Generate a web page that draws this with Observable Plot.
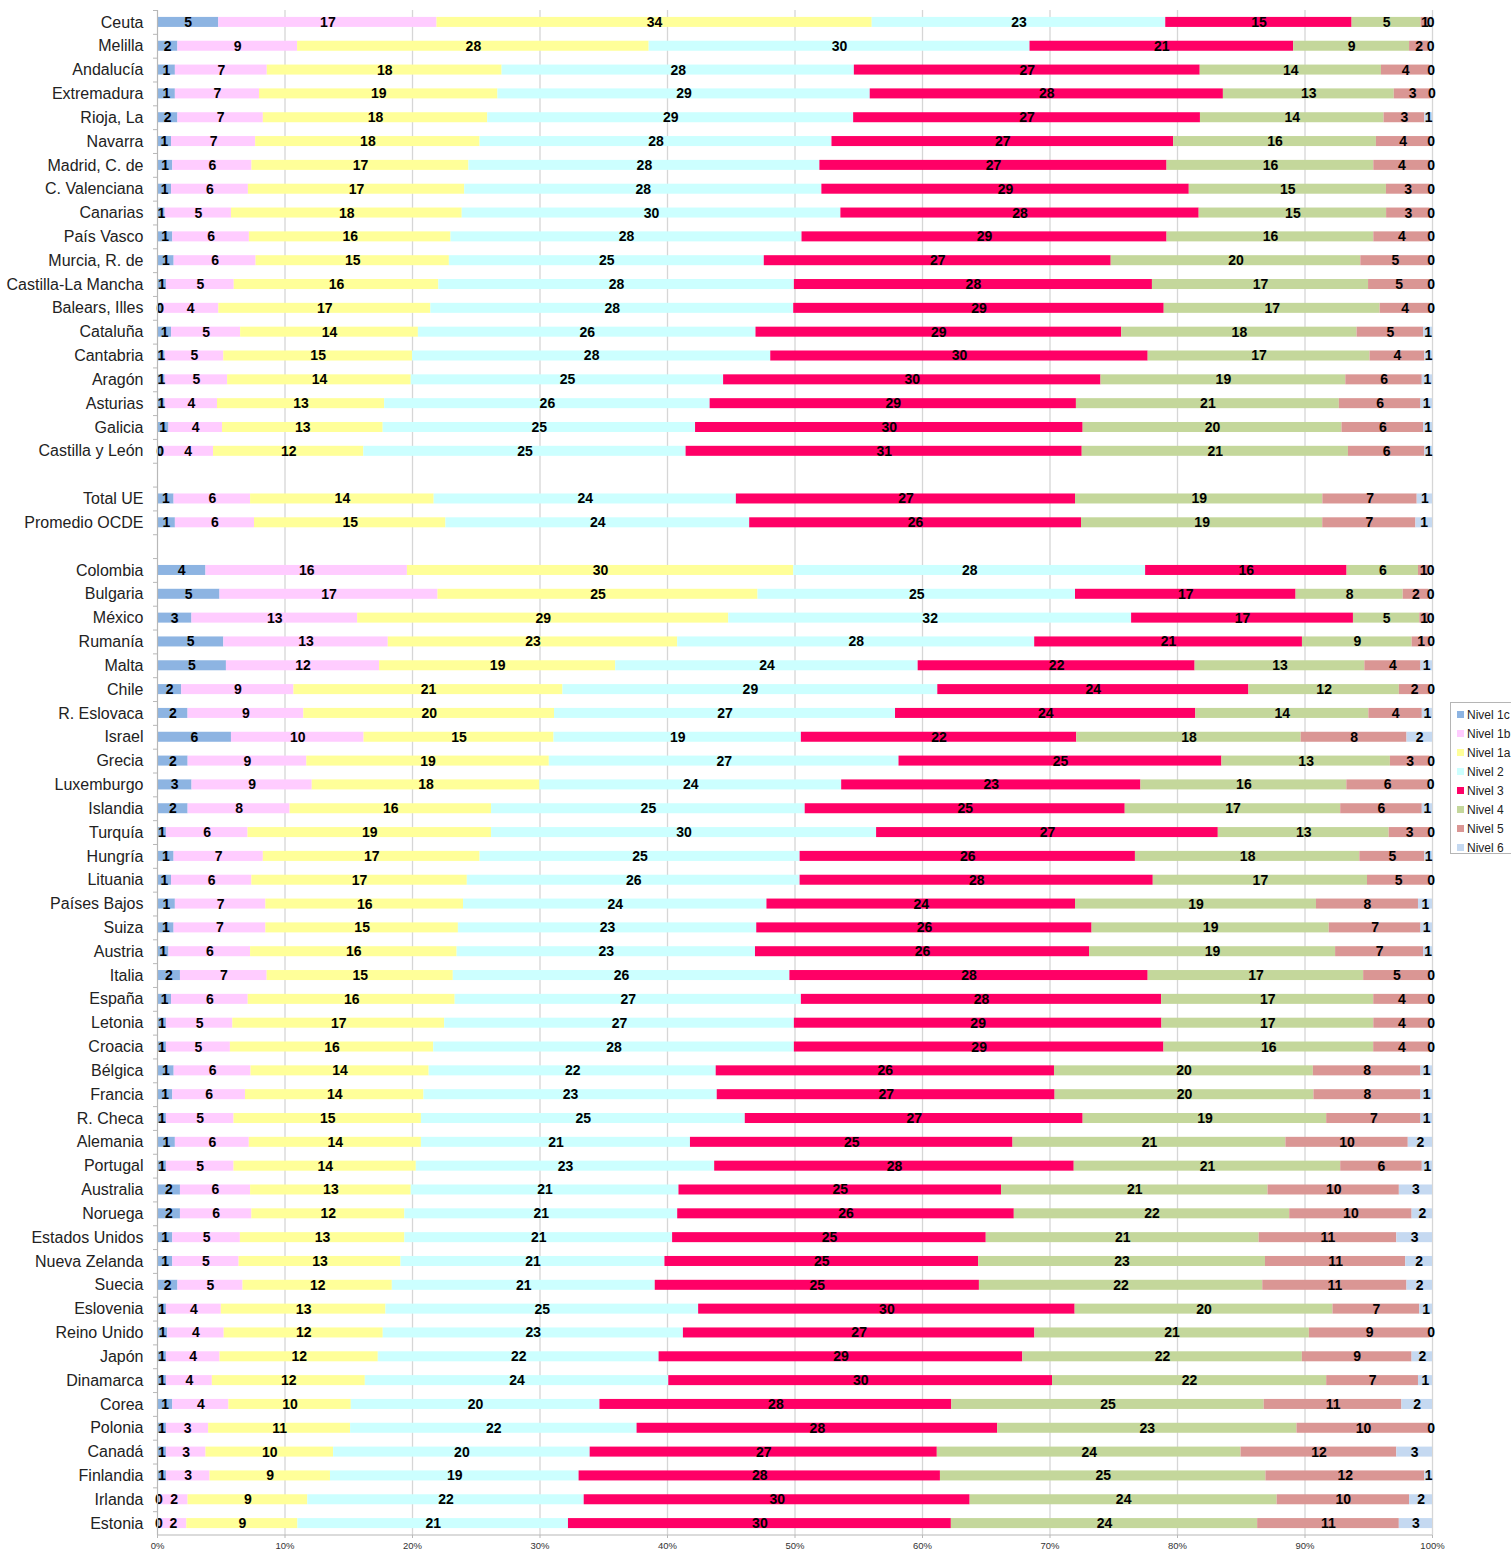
<!DOCTYPE html>
<html>
<head>
<meta charset="utf-8">
<script src="https://cdn.jsdelivr.net/npm/d3@7"></script>
<script src="https://cdn.jsdelivr.net/npm/@observablehq/plot@0.6"></script>
<style>
  body { margin: 0; background: #fff; font-family: "Liberation Sans", Arial, sans-serif; }
  #wrap { position: relative; width: 1511px; height: 1552px; overflow: hidden; }
  #leftborder { position: absolute; left: 0; top: 0; width: 1px; height: 1552px; background: #8a8a8a; }
  #legend { position: absolute; left: 1450px; top: 702px; width: 80px; height: 152px; border: 1px solid #b5b5b5; background: #fff; box-sizing: border-box; padding-top: 2px; }
  .lg { height: 19px; display: flex; align-items: center; font-size: 12px; color: #222; white-space: nowrap; }
  .sw { width: 7px; height: 7px; margin-left: 6px; margin-right: 3px; flex: none; }
</style>
</head>
<body>
<div id="wrap"><div id="leftborder"></div></div>
<script>
const regiones = ["Ceuta", "Melilla", "Andalucía", "Extremadura", "Rioja, La", "Navarra", "Madrid, C. de", "C. Valenciana", "Canarias", "País Vasco", "Murcia, R. de", "Castilla-La Mancha", "Balears, Illes", "Cataluña", "Cantabria", "Aragón", "Asturias", "Galicia", "Castilla y León"];
const referencias = ["Total UE", "Promedio OCDE"];
const paises = ["Colombia", "Bulgaria", "México", "Rumanía", "Malta", "Chile", "R. Eslovaca", "Israel", "Grecia", "Luxemburgo", "Islandia", "Turquía", "Hungría", "Lituania", "Países Bajos", "Suiza", "Austria", "Italia", "España", "Letonia", "Croacia", "Bélgica", "Francia", "R. Checa", "Alemania", "Portugal", "Australia", "Noruega", "Estados Unidos", "Nueva Zelanda", "Suecia", "Eslovenia", "Reino Unido", "Japón", "Dinamarca", "Corea", "Polonia", "Canadá", "Finlandia", "Irlanda", "Estonia"];

const niveles = ["Nivel 1c", "Nivel 1b", "Nivel 1a", "Nivel 2", "Nivel 3", "Nivel 4", "Nivel 5", "Nivel 6"];
const colores = ["#8DB4E2", "#FFCCFF", "#FFFF99", "#CCFFFF", "#FF0066", "#C4D79B", "#DA9694", "#C5D9F1"];

// Percentages per level, in the order regiones, referencias, paises
const nivel1c = [4.8, 1.6, 1.4, 1.4, 1.6, 1.1, 1.2, 1.1, 0.6, 1.2, 1.3, 0.7, 0.4, 1.1, 0.6, 0.6, 0.6, 0.9, 0.4,
  1.3, 1.4,
  3.8, 4.9, 2.7, 5.2, 5.4, 1.9, 2.4, 5.8, 2.4, 2.7, 2.4, 0.7, 1.3, 1.1, 1.4, 1.3, 0.9, 1.8, 1.1, 0.7, 0.7, 1.3, 1.2, 0.7, 1.4, 0.7, 1.8, 1.8, 1.2, 1.2, 1.6, 0.7, 0.8, 0.7, 0.7, 1.2, 0.7, 0.7, 0.7, 0.2, 0.2];
const nivel1b = [17.1, 9.4, 7.2, 6.6, 6.7, 6.6, 6.2, 6.0, 5.2, 6.0, 6.4, 5.3, 4.4, 5.4, 4.6, 4.9, 4.1, 4.2, 4.0,
  6.0, 6.2,
  15.8, 17.1, 13.0, 12.9, 12.0, 8.8, 9.1, 10.4, 9.3, 9.4, 8.0, 6.4, 7.0, 6.3, 7.1, 7.2, 6.4, 6.8, 6.0, 5.2, 5.0, 6.0, 5.7, 5.3, 5.8, 5.3, 5.5, 5.6, 5.3, 5.2, 5.1, 4.3, 4.4, 4.2, 3.6, 4.4, 3.3, 3.1, 3.4, 2.2, 2.1];
const nivel1a = [34.1, 27.6, 18.4, 18.7, 17.6, 17.6, 17.0, 16.9, 18.1, 15.8, 15.1, 16.0, 16.6, 13.9, 14.8, 14.4, 13.1, 12.6, 11.8,
  14.4, 15.0,
  30.3, 25.1, 29.1, 22.7, 18.5, 21.1, 19.7, 14.9, 19.0, 17.8, 15.8, 19.1, 17.0, 16.9, 15.5, 15.1, 16.2, 14.6, 16.2, 16.6, 15.9, 13.9, 14.0, 14.7, 13.5, 14.3, 12.6, 12.0, 12.9, 12.7, 11.7, 12.9, 12.4, 12.4, 12.0, 9.6, 11.1, 10.0, 9.4, 9.4, 8.7];
const nivel2 = [23.0, 29.9, 27.6, 29.2, 28.7, 27.6, 27.5, 27.9, 29.7, 27.5, 24.6, 27.8, 28.4, 26.4, 28.1, 24.5, 25.5, 24.5, 25.3,
  23.7, 23.8,
  27.6, 24.9, 31.6, 28.0, 23.7, 29.4, 26.8, 19.4, 27.4, 23.6, 24.6, 30.2, 25.1, 26.1, 23.8, 23.4, 23.4, 26.4, 27.1, 27.4, 28.2, 22.4, 23.0, 25.4, 21.1, 23.4, 21.0, 21.4, 21.0, 20.7, 20.6, 24.5, 23.4, 22.0, 23.8, 19.5, 22.4, 20.1, 19.4, 21.7, 21.2];
const nivel3 = [14.6, 20.7, 27.1, 27.7, 27.2, 26.8, 27.2, 28.7, 28.1, 28.6, 27.1, 28.0, 29.0, 28.6, 29.6, 29.6, 28.7, 30.4, 31.1,
  26.6, 26.0,
  15.8, 17.3, 17.4, 21.0, 21.7, 24.4, 23.6, 21.6, 25.3, 23.4, 25.1, 26.8, 26.3, 27.7, 24.2, 26.3, 26.2, 28.1, 28.2, 28.8, 28.9, 26.4, 26.5, 26.5, 25.3, 28.2, 25.3, 26.4, 24.6, 24.6, 25.4, 29.5, 27.4, 28.5, 30.1, 27.6, 28.2, 27.2, 28.2, 30.3, 30.0];
const nivel4 = [5.4, 9.1, 14.2, 13.4, 14.4, 15.9, 16.2, 15.4, 14.7, 16.2, 19.5, 16.9, 16.9, 18.4, 17.4, 19.2, 20.6, 20.3, 20.9,
  19.4, 18.9,
  5.6, 8.4, 5.2, 8.6, 13.3, 11.8, 13.6, 17.6, 13.2, 16.1, 16.9, 13.4, 17.6, 16.8, 18.9, 18.6, 19.3, 16.9, 16.6, 16.6, 16.4, 20.2, 20.3, 19.1, 21.4, 20.9, 20.9, 21.6, 21.4, 22.5, 22.2, 20.2, 21.4, 21.9, 21.5, 24.5, 23.4, 23.8, 25.4, 24.1, 24.0];
const nivel5 = [0.6, 1.5, 3.8, 2.9, 3.2, 4.2, 4.4, 3.4, 3.4, 4.4, 5.4, 4.8, 3.9, 5.2, 4.3, 6.0, 6.4, 6.4, 6.0,
  7.4, 7.3,
  0.8, 2.0, 0.7, 1.4, 4.4, 2.4, 4.2, 8.3, 3.1, 6.4, 6.4, 3.2, 5.1, 4.9, 8.0, 7.2, 6.9, 5.2, 4.4, 4.4, 4.4, 8.4, 8.4, 7.4, 9.6, 6.4, 10.3, 9.6, 10.8, 11.0, 11.3, 6.8, 9.4, 8.6, 7.2, 10.8, 10.4, 12.2, 12.4, 10.4, 11.1];
const nivel6 = [0.3, 0.3, 0.2, 0.1, 0.6, 0.2, 0.2, 0.2, 0.2, 0.2, 0.2, 0.2, 0.2, 0.7, 0.6, 0.8, 0.9, 0.7, 0.6,
  1.2, 1.3,
  0.3, 0.3, 0.3, 0.2, 0.9, 0.2, 0.8, 2.0, 0.2, 0.3, 0.8, 0.2, 0.6, 0.2, 1.1, 0.9, 0.7, 0.2, 0.2, 0.2, 0.2, 0.9, 0.9, 0.9, 1.9, 0.8, 2.6, 1.6, 2.8, 2.1, 2.0, 1.0, 0.2, 1.6, 1.1, 2.4, 0.2, 2.8, 0.6, 1.8, 2.6];

const filas = [...regiones, ...referencias, ...paises];
const dominioY = [...regiones, " ", ...referencias, "  ", ...paises];
const series = [nivel1c, nivel1b, nivel1a, nivel2, nivel3, nivel4, nivel5, nivel6];

const datos = [];
filas.forEach((cat, i) => {
  niveles.forEach((lv, j) => {
    const v = series[j][i];
    datos.push({cat, level: lv, value: v, label: String(Math.round(v))});
  });
});

const marginTop = 10, marginBottom = 17, H = 1552;
const step = (H - marginTop - marginBottom) / dominioY.length;

const chart = Plot.plot({
  width: 1511,
  height: H,
  marginLeft: 157,
  marginRight: 79,
  marginTop,
  marginBottom,
  style: {fontFamily: "'Liberation Sans', Arial, sans-serif", background: "white", overflow: "visible"},
  x: {domain: [0, 1], axis: null},
  y: {domain: dominioY, axis: null, paddingInner: 0.58, paddingOuter: 0.29},
  color: {domain: niveles, range: colores},
  marks: [
    Plot.ruleX(d3.range(1, 11).map(d => d / 10), {stroke: "#d6d6d6", strokeWidth: 1.3}),
    Plot.barX(datos, Plot.stackX({x: "value", y: "cat", fill: "level", order: niveles, offset: "normalize"})),
    Plot.text(datos, Plot.stackX({x: "value", y: "cat", z: "level", order: niveles, offset: "normalize",
      text: "label", fill: "#000", fontWeight: "bold", fontSize: 14})),
    Plot.ruleX([0], {stroke: "#b8b8b8", strokeWidth: 1.2}),
    Plot.axisY({tickSize: 0, tickPadding: 14, fontSize: 16, fill: "#222", label: null,
      tickFormat: d => d.trim() === "" ? "" : d}),
    Plot.axisY({tickSize: 4, dy: -step / 2, stroke: "#b8b8b8", label: null, tickFormat: () => ""}),
    Plot.axisX({ticks: d3.range(0, 11).map(d => d / 10), tickFormat: d => Math.round(d * 100) + "%",
      tickSize: 3, tickPadding: 4, fontSize: 9.5, fill: "#333", stroke: "#b8b8b8", label: null})
  ]
});

// bottom axis line
const yr = chart.scale("y").range;
d3.select(chart).append("line")
  .attr("x1", 157).attr("x2", 1432)
  .attr("y1", yr[1]).attr("y2", yr[1])
  .attr("stroke", "#b8b8b8").attr("stroke-width", 1.2);

const wrap = document.getElementById("wrap");
wrap.appendChild(chart);
chart.style.position = "absolute";
chart.style.left = "0px";
chart.style.top = "0px";

const legend = document.createElement("div");
legend.id = "legend";
niveles.forEach((lv, j) => {
  const row = document.createElement("div");
  row.className = "lg";
  const sw = document.createElement("span");
  sw.className = "sw";
  sw.style.background = colores[j];
  row.appendChild(sw);
  row.appendChild(document.createTextNode(lv));
  legend.appendChild(row);
});
wrap.appendChild(legend);
</script>
</body>
</html>
